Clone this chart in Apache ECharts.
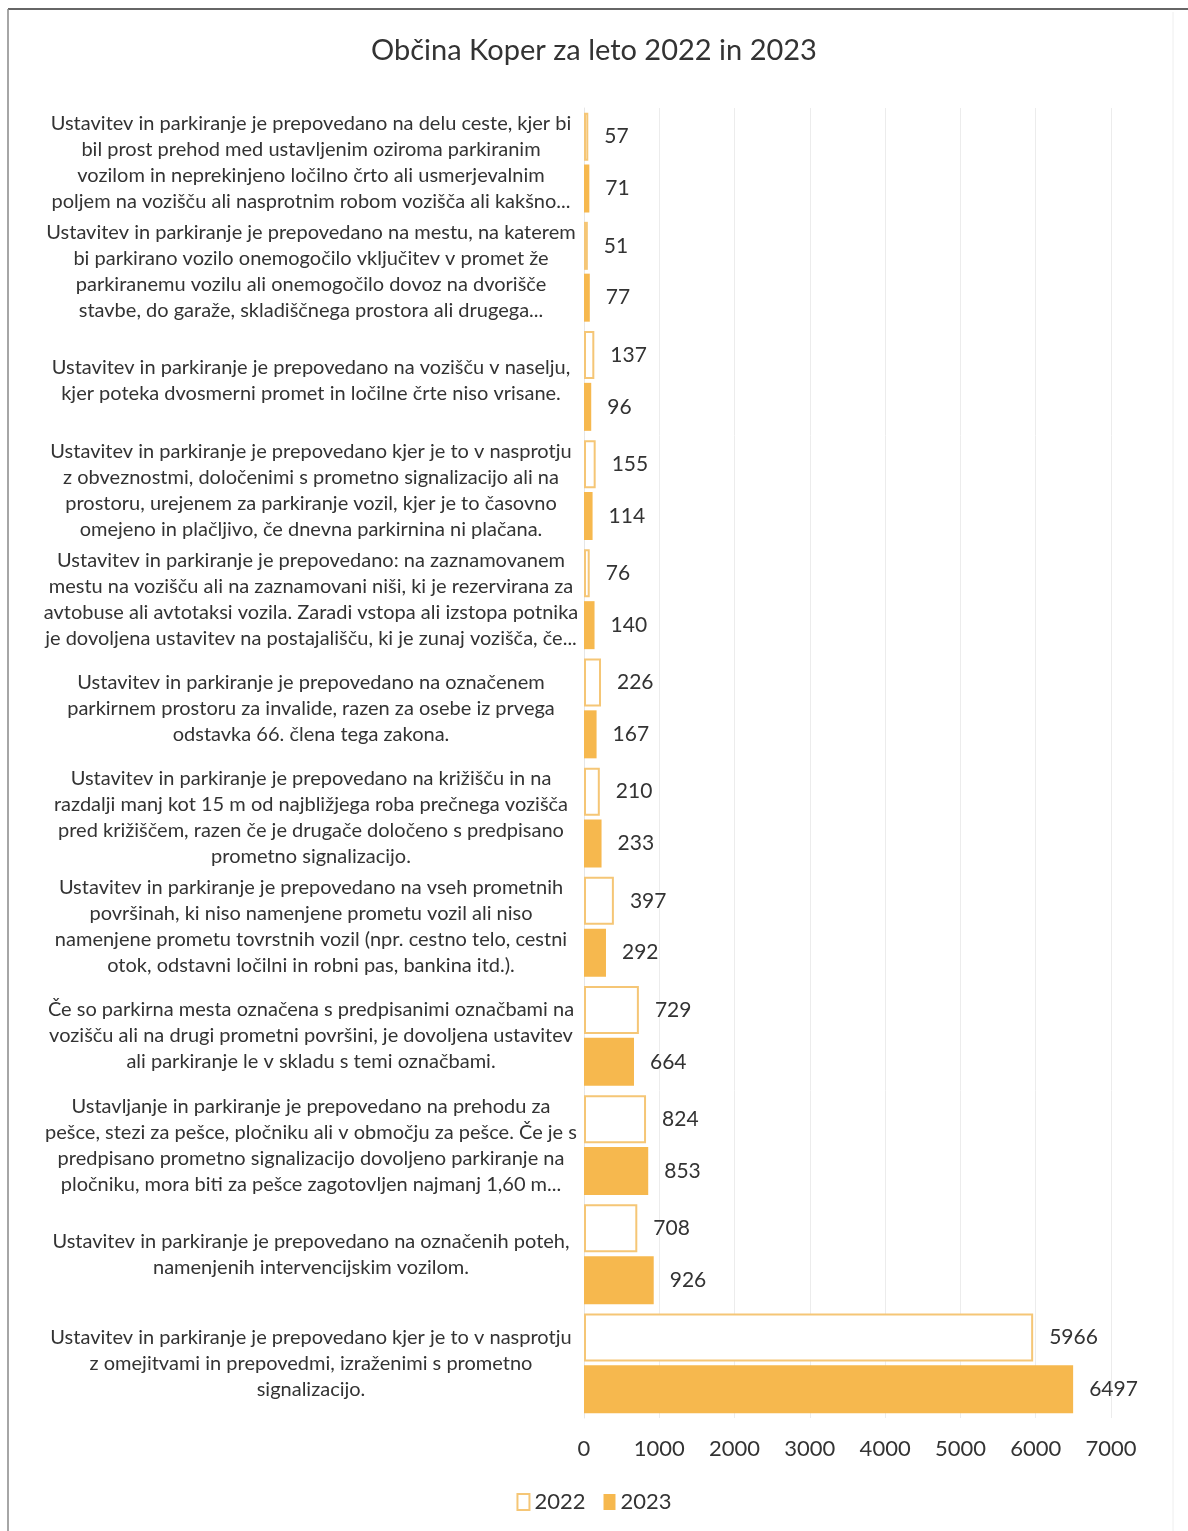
<!DOCTYPE html>
<html>
<head>
<meta charset="utf-8">
<script src="https://cdn.jsdelivr.net/npm/echarts@6/dist/echarts.min.js"></script>
<style>
html,body{margin:0;padding:0;background:#fff;}
#chart{width:1188px;height:1531px;}
</style>
</head>
<body>
<div id="chart"></div>
<script>
var titleText = 'Občina Koper za leto 2022 in 2023';
var categories = [
  'Ustavitev in parkiranje je prepovedano na delu ceste, kjer bi\nbil prost prehod med ustavljenim oziroma parkiranim\nvozilom in neprekinjeno ločilno črto ali usmerjevalnim\npoljem na vozišču ali nasprotnim robom vozišča ali kakšno...',
  'Ustavitev in parkiranje je prepovedano na mestu, na katerem\nbi parkirano vozilo onemogočilo vključitev v promet že\nparkiranemu vozilu ali onemogočilo dovoz na dvorišče\nstavbe, do garaže, skladiščnega prostora ali drugega...',
  'Ustavitev in parkiranje je prepovedano na vozišču v naselju,\nkjer poteka dvosmerni promet in ločilne črte niso vrisane.',
  'Ustavitev in parkiranje je prepovedano kjer je to v nasprotju\nz obveznostmi, določenimi s prometno signalizacijo ali na\nprostoru, urejenem za parkiranje vozil, kjer je to časovno\nomejeno in plačljivo, če dnevna parkirnina ni plačana.',
  'Ustavitev in parkiranje je prepovedano: na zaznamovanem\nmestu na vozišču ali na zaznamovani niši, ki je rezervirana za\navtobuse ali avtotaksi vozila. Zaradi vstopa ali izstopa potnika\nje dovoljena ustavitev na postajališču, ki je zunaj vozišča, če...',
  'Ustavitev in parkiranje je prepovedano na označenem\nparkirnem prostoru za invalide, razen za osebe iz prvega\nodstavka 66. člena tega zakona.',
  'Ustavitev in parkiranje je prepovedano na križišču in na\nrazdalji manj kot 15 m od najbližjega roba prečnega vozišča\npred križiščem, razen če je drugače določeno s predpisano\nprometno signalizacijo.',
  'Ustavitev in parkiranje je prepovedano na vseh prometnih\npovršinah, ki niso namenjene prometu vozil ali niso\nnamenjene prometu tovrstnih vozil (npr. cestno telo, cestni\notok, odstavni ločilni in robni pas, bankina itd.).',
  'Če so parkirna mesta označena s predpisanimi označbami na\nvozišču ali na drugi prometni površini, je dovoljena ustavitev\nali parkiranje le v skladu s temi označbami.',
  'Ustavljanje in parkiranje je prepovedano na prehodu za\npešce, stezi za pešce, pločniku ali v območju za pešce. Če je s\npredpisano prometno signalizacijo dovoljeno parkiranje na\npločniku, mora biti za pešce zagotovljen najmanj 1,60 m...',
  'Ustavitev in parkiranje je prepovedano na označenih poteh,\nnamenjenih intervencijskim vozilom.',
  'Ustavitev in parkiranje je prepovedano kjer je to v nasprotju\nz omejitvami in prepovedmi, izraženimi s prometno\nsignalizacijo.'
];
var seriesNames = ['2022', '2023'];
var values2022 = [57, 51, 137, 155, 76, 226, 210, 397, 729, 824, 708, 5966];
var values2023 = [71, 77, 96, 114, 140, 167, 233, 292, 664, 853, 926, 6497];
var xTicks = [0, 1000, 2000, 3000, 4000, 5000, 6000, 7000];

var FONT = 'Lato, "Open Sans", sans-serif';
var chart = echarts.init(document.getElementById('chart'), null, {renderer: 'canvas'});
var option = {
  backgroundColor: '#fff',
  animation: false,
  title: {
    text: titleText,
    left: 'center',
    top: 31,
    textStyle: {fontFamily: FONT, fontSize: 29, fontWeight: 'normal', color: '#333'}
  },
  legend: {
    data: seriesNames,
    bottom: 13,
    left: 'center',
    icon: 'rect',
    itemWidth: 12,
    itemHeight: 16,
    itemGap: 18,
    textStyle: {fontFamily: FONT, fontSize: 22, color: '#333'}
  },
  grid: {left: 584, right: 77, top: 108, bottom: 113, containLabel: false},
  xAxis: {
    type: 'value',
    min: xTicks[0],
    max: xTicks[xTicks.length - 1],
    interval: 1000,
    axisLine: {show: false},
    axisTick: {show: false},
    splitLine: {lineStyle: {color: '#ececec', width: 1}},
    axisLabel: {
      fontFamily: FONT, fontSize: 22, color: '#333', margin: 20,
      formatter: function (v) { return String(v); }
    }
  },
  yAxis: {
    type: 'category',
    inverse: true,
    data: categories,
    axisLine: {show: true, lineStyle: {color: '#e6e6e6'}},
    axisTick: {show: false},
    axisLabel: {
      fontFamily: FONT, fontSize: 20, color: '#333', lineHeight: 26,
      align: 'center', margin: 273
    }
  },
  series: [
    {
      name: seriesNames[0],
      type: 'bar',
      data: values2022,
      barWidth: 48,
      barGap: '8%',
      itemStyle: {color: '#ffffff', borderColor: '#f5c676', borderWidth: 2},
      label: {show: true, position: 'right', distance: 16, fontFamily: FONT, fontSize: 21, color: '#333'}
    },
    {
      name: seriesNames[1],
      type: 'bar',
      data: values2023,
      barWidth: 48,
      barGap: '8%',
      itemStyle: {color: '#f6b84e'},
      label: {show: true, position: 'right', distance: 16, fontFamily: FONT, fontSize: 21, color: '#333'}
    }
  ],
  graphic: [
    {type: 'line', shape: {x1: 8, y1: 9, x2: 1188, y2: 9}, style: {stroke: '#666', lineWidth: 2}},
    {type: 'line', shape: {x1: 8, y1: 9, x2: 8, y2: 1531}, style: {stroke: '#888', lineWidth: 1.5}},
    {type: 'line', shape: {x1: 1173, y1: 12, x2: 1173, y2: 1531}, style: {stroke: '#eeeeee', lineWidth: 1}}
  ]
};
chart.setOption(option);
</script>
</body>
</html>
